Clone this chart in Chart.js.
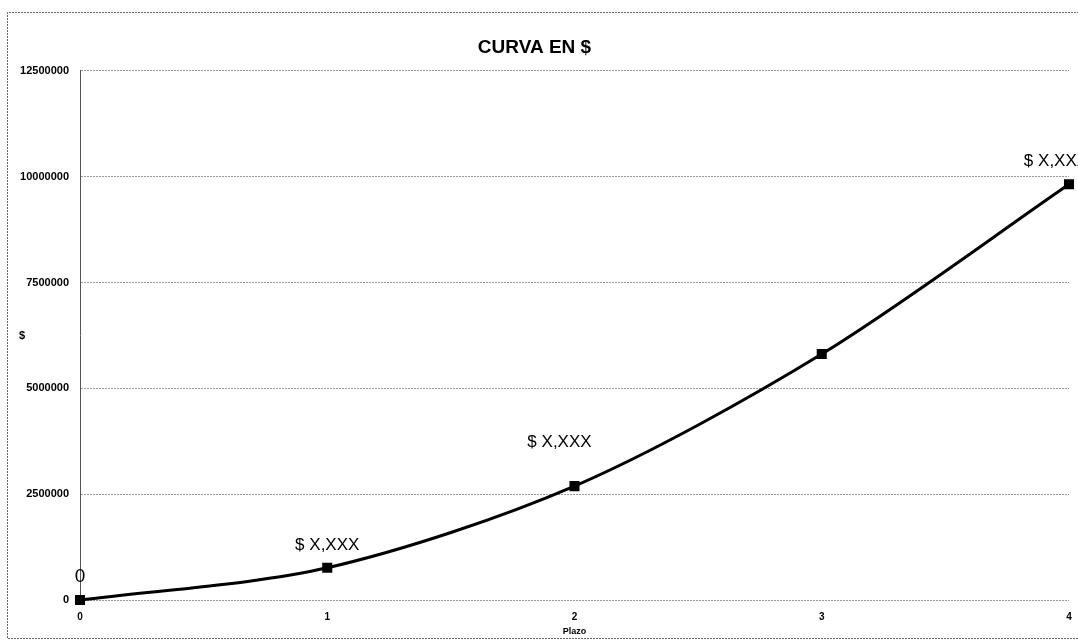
<!DOCTYPE html>
<html>
<head>
<meta charset="utf-8">
<script src="https://cdn.jsdelivr.net/npm/chart.js@4.4.1/dist/chart.umd.min.js"></script>
<style>
  html, body { margin: 0; padding: 0; background: #fff; }
  #wrap { width: 1078px; height: 641px; }
</style>
</head>
<body>
<div id="wrap"><canvas id="c" width="1078" height="641"></canvas></div>
<script>
const plazo = [0, 1, 2, 3, 4];
const valores = [0, 760000, 2690000, 5810000, 9820000];
const etiquetas = ["0", "$ X,XXX", "$ X,XXX", "", "$ X,XXX"];
const yTicks = [0, 2500000, 5000000, 7500000, 10000000, 12500000];
const titulo = "CURVA EN $";
const tituloY = "$";
const tituloX = "Plazo";

const labelOffsets = [[0, -23], [0, -23], [-15, -44], [0, -23], [-13, -23]];

const decorPlugin = {
  id: 'decor',
  beforeDraw(chart) {
    const ctx = chart.ctx;
    ctx.save();
    ctx.fillStyle = '#fff';
    ctx.fillRect(0, 0, chart.width, chart.height);
    ctx.strokeStyle = '#666';
    ctx.lineWidth = 1;
    ctx.setLineDash([2, 1]);
    ctx.beginPath();
    ctx.moveTo(1085, 12.5); ctx.lineTo(7.5, 12.5); ctx.lineTo(7.5, 638.5); ctx.lineTo(1085, 638.5);
    ctx.stroke();
    ctx.restore();
  },
  afterDraw(chart) {
    const ctx = chart.ctx;
    ctx.save();
    ctx.fillStyle = '#000';
    ctx.font = 'bold 11px "Liberation Sans", Arial, sans-serif';
    ctx.textAlign = 'center';
    ctx.textBaseline = 'middle';
    ctx.fillText(tituloY, 22, 336);
    const meta = chart.getDatasetMeta(0);
    meta.data.forEach((pt, i) => {
      const t = etiquetas[i];
      if (!t) return;
      ctx.font = (i === 0 ? '19px' : '17px') + ' "Liberation Sans", Arial, sans-serif';
      ctx.fillText(t, pt.x + labelOffsets[i][0], pt.y + labelOffsets[i][1]);
    });
    ctx.restore();
  }
};

new Chart(document.getElementById('c'), {
  type: 'line',
  data: {
    datasets: [{
      data: plazo.map((x, i) => ({ x: x, y: valores[i] })),
      borderColor: '#000',
      backgroundColor: '#000',
      borderWidth: 3,
      pointStyle: 'rect',
      pointRadius: 5,
      pointBackgroundColor: '#000',
      pointBorderColor: '#000',
      tension: 0.3,
      clip: false
    }]
  },
  options: {
    responsive: false,
    animation: false,
    layout: { padding: { left: 0, right: 9, top: 0, bottom: 0 } },
    plugins: {
      legend: { display: false },
      tooltip: { enabled: false },
      title: {
        display: true,
        text: titulo,
        color: '#000',
        font: { family: '"Liberation Sans", Arial, sans-serif', size: 19, weight: 'bold' },
        padding: { top: 36, bottom: 12 }
      }
    },
    scales: {
      x: {
        type: 'linear',
        min: 0,
        max: 4,
        afterFit(s) { s.height = 41; s.paddingLeft = 0; s.paddingRight = 0; },
        afterBuildTicks(s) { s.ticks = plazo.map(v => ({ value: v })); },
        grid: { display: false, drawTicks: false },
        border: { display: false },
        ticks: {
          color: '#000',
          padding: 11,
          font: { family: '"Liberation Sans", Arial, sans-serif', size: 10, weight: 'bold' }
        },
        title: {
          display: true,
          text: tituloX,
          color: '#000',
          font: { family: '"Liberation Sans", Arial, sans-serif', size: 9, weight: 'bold' },
          padding: { top: 0, bottom: 4 }
        }
      },
      y: {
        min: 0,
        max: 12500000,
        afterFit(s) { s.width = 80; s.paddingTop = 0; s.paddingBottom = 0; },
        afterBuildTicks(s) { s.ticks = yTicks.map(v => ({ value: v })); },
        grid: { color: '#999', lineWidth: 1, drawTicks: false },
        border: { display: true, color: '#555', dash: [2, 1] },
        ticks: {
          color: '#000',
          padding: 11,
          font: { family: '"Liberation Sans", Arial, sans-serif', size: 11, weight: 'bold' },
          callback: v => String(v)
        }
      }
    }
  },
  plugins: [decorPlugin]
});
</script>
</body>
</html>
